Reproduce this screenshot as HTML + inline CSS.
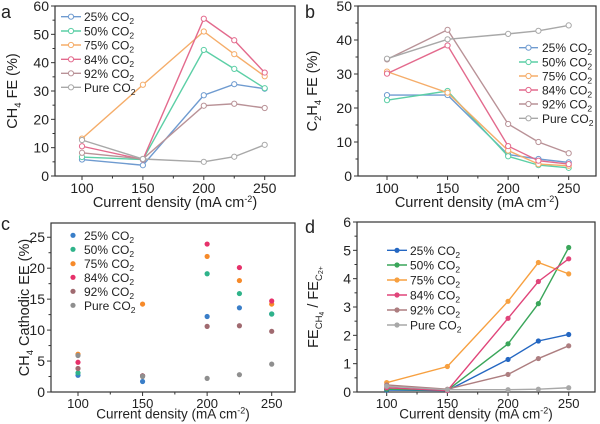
<!DOCTYPE html>
<html><head><meta charset="utf-8"><style>
html,body{margin:0;padding:0;background:#fff}
svg{display:block;font-family:"Liberation Sans",Arial,sans-serif}
</style></head><body>
<svg id="s" width="600" height="424" viewBox="0 0 600 424" xmlns="http://www.w3.org/2000/svg"></svg>
<script>
const S=document.getElementById('s');let h='';
const X=[100,150,200,225,250];
function panel(o){
 const {L,R,T,B,x100,x250,ymax,ystep}=o;
 const kx=(x250-x100)/150, fx=v=>x100+(v-100)*kx, fy=v=>B-(v/ymax)*(B-T);
 const tf=o.tf||14, af=o.af||14.5;
 let g='';
 g+=`<rect x="${L}" y="${T}" width="${R-L}" height="${B-T}" fill="none" stroke="#333" stroke-width="1.2"/>`;
 for(let v=100;v<=250;v+=50){g+=`<line x1="${fx(v)}" y1="${B}" x2="${fx(v)}" y2="${B+4}" stroke="#333"/><text x="${fx(v)}" y="${B+o.tly}" font-size="${tf}" text-anchor="middle" fill="#222">${v}</text>`;}
 for(let v=125;v<=275;v+=50){if(fx(v)<R)g+=`<line x1="${fx(v)}" y1="${B}" x2="${fx(v)}" y2="${B+2.5}" stroke="#333"/>`;}
 for(let v=0;v<=ymax+1e-6;v+=ystep){const y=fy(v);g+=`<line x1="${L-4}" y1="${y}" x2="${L}" y2="${y}" stroke="#333"/><text x="${L-6}" y="${y+5}" font-size="14" text-anchor="end" fill="#222">${v}</text>`;
  const m=v+ystep/2; if(m<ymax)g+=`<line x1="${L-2.5}" y1="${fy(m)}" x2="${L}" y2="${fy(m)}" stroke="#333"/>`;}
 g+=`<text x="${(L+R)/2}" y="${B+o.tdy}" font-size="${af}" text-anchor="middle" fill="#222">Current density (mA cm<tspan dy="-5" font-size="9">-2</tspan><tspan dy="5">)</tspan></text>`;
 g+=`<text transform="translate(${o.ylx},${(T+B)/2}) rotate(-90)" font-size="14.5" text-anchor="middle" fill="#222">${o.ylab}</text>`;
 o.series.forEach(s=>{
  const pts=s.d.map((v,i)=>[fx(X[i]),fy(v)]);
  if(o.lines)g+=`<polyline points="${pts.map(p=>p.join(',')).join(' ')}" fill="none" stroke="${s.c}" stroke-width="1.4"/>`;
  pts.forEach(p=>{
   if(o.open)g+=`<circle cx="${p[0]}" cy="${p[1]}" r="2.6" fill="#fff" stroke="${s.c}" stroke-width="1"/>`;
   else g+=`<circle cx="${p[0]}" cy="${p[1]}" r="2.6" fill="${s.c}"/>`;
  });
 });
 o.series.forEach((s,i)=>{
  const y=o.ly[i];
  if(o.lines)g+=`<line x1="${o.lx1}" y1="${y}" x2="${o.lx2}" y2="${y}" stroke="${s.c}" stroke-width="1.4"/>`;
  const cx=o.lines?(o.lx1+o.lx2)/2:o.lx2;
  if(o.open)g+=`<circle cx="${cx}" cy="${y}" r="2.6" fill="#fff" stroke="${s.c}"/>`;else g+=`<circle cx="${cx}" cy="${y}" r="2.6" fill="${s.c}"/>`;
  const n=s.n=='Pure'?'Pure CO':s.n+'% CO';
  g+=`<text x="${o.tx}" y="${y+4.5}" font-size="12" fill="#222">${n}<tspan dy="3" font-size="8.5">2</tspan></text>`;
 });
 g+=`<text x="${o.lbx}" y="${o.lby}" font-size="18" fill="#222">${o.lab}</text>`;
 return g;
}
const ca=['#6f9bd0','#5ccfa6','#f5ad6a','#e36a8d','#b99297','#a8a8a8'];
const cd=['#2467c2','#3aa65a','#f7a040','#e0457a','#ad7e80','#a8a8a8'];
const cc=['#3a7ec8','#2fb38a','#f68a2a','#e6316a','#a06a70','#8f8f8f'];
const N=['25','50','75','84','92','Pure'];
const mk=(cols,data)=>data.map((d,i)=>({n:N[i],c:cols[i],d}));
h+=panel({L:55,R:295,T:6,B:176,x100:82,x250:264.7,ymax:60,ystep:10,tly:17,tdy:31,ylx:17,ylab:'CH<tspan dy="4" font-size="9.5">4</tspan><tspan dy="-4"> FE (%)</tspan>',lines:1,open:1,
 series:mk(ca,[[5.8,3.8,28.5,32.4,30.8],[6.7,5.8,44.5,37.8,31.0],[13.2,32.2,51.0,43.0,35.2],[10.5,5.8,55.5,47.9,36.5],[8.2,6.0,24.8,25.5,24.0],[12.7,6.0,5.0,6.8,11.0]]),
 ly:[16.7,31,45,59.3,73.3,87.3],lx1:61,lx2:81,tx:84,lab:'a',lbx:1,lby:18});
h+=panel({L:358,R:596,T:6,B:176,x100:387,x250:568.7,ymax:50,ystep:10,tly:17,tdy:31,ylx:317,ylab:'C<tspan dy="4" font-size="9.5">2</tspan><tspan dy="-4">H</tspan><tspan dy="4" font-size="9.5">4</tspan><tspan dy="-4"> FE (%)</tspan>',lines:1,open:1,
 series:mk(ca,[[23.8,23.8,6.3,5.0,4.0],[22.3,25.0,5.8,3.2,2.4],[30.7,24.5,7.5,3.5,3.0],[30.1,38.4,8.8,4.5,3.5],[34.3,43.0,15.3,10.0,6.7],[34.5,40.2,41.8,42.7,44.3]]),
 ly:[47.7,62,76,90,104,118.3],lx1:519,lx2:538,tx:542,lab:'b',lbx:305,lby:18});
h+=panel({L:51,R:295,T:223,B:392,x100:78,x250:271.7,ymax:27.3,ystep:5,tly:16,tdy:26.5,tf:13,af:13.5,ylx:29,ylab:'CH<tspan dy="4" font-size="9.5">4</tspan><tspan dy="-4"> Cathodic EE (%)</tspan>',lines:0,open:0,
 series:mk(cc,[[2.7,1.7,12.2,13.6,12.6],[3.1,2.6,19.1,15.9,12.6],[6.1,14.2,21.9,18.0,14.2],[4.8,2.6,23.9,20.1,14.7],[3.8,2.6,10.6,10.7,9.8],[5.9,2.5,2.2,2.8,4.5]]),
 ly:[235.3,249.3,263.7,277.3,291.3,305.3],lx1:73,lx2:73,tx:84,lab:'c',lbx:1,lby:230});
h+=panel({L:357,R:595,T:222,B:392,x100:386.7,x250:568.7,ymax:6,ystep:1,tly:16,tdy:26.5,tf:13,af:13.5,ylx:318,ylab:'FE<tspan dy="4" font-size="9.5">CH</tspan><tspan dy="2" font-size="7">4</tspan><tspan dy="-6"> / FE</tspan><tspan dy="4" font-size="9.5">C</tspan><tspan dy="1" font-size="7">2+</tspan>',lines:1,open:0,
 series:mk(cd,[[0.07,0.05,1.15,1.8,2.03],[0.1,0.06,1.7,3.12,5.1],[0.33,0.9,3.2,4.57,4.17],[0.15,0.05,2.6,3.9,4.7],[0.25,0.1,0.62,1.18,1.63],[0.2,0.08,0.08,0.1,0.15]]),
 ly:[250.3,265,280,295,310,325],lx1:387,lx2:407,tx:410,lab:'d',lbx:305,lby:233});
S.innerHTML=h;
</script>
</body></html>
